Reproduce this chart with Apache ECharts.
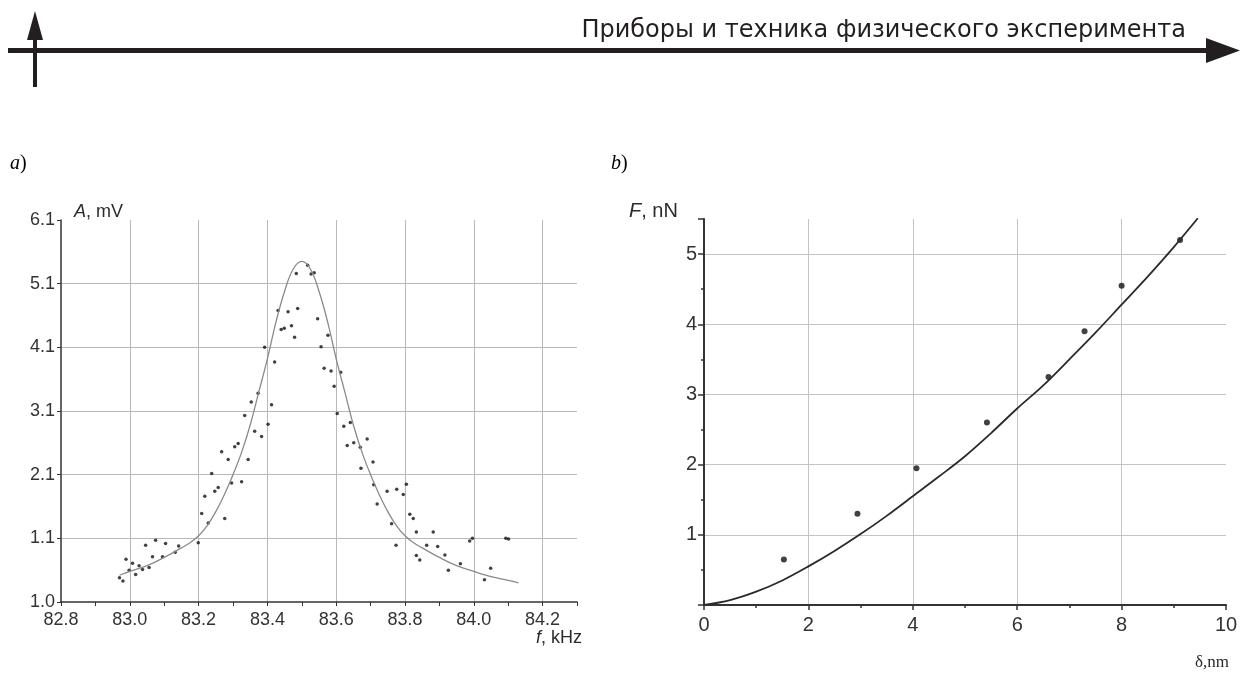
<!DOCTYPE html>
<html>
<head>
<meta charset="utf-8">
<title>Приборы и техника физического эксперимента</title>
<script src="https://cdn.jsdelivr.net/npm/echarts@6.0.0/dist/echarts.min.js"></script>
<style>
  html, body { margin: 0; padding: 0; background: #fff; }
  #chart { width: 1244px; height: 673px; }
</style>
</head>
<body>
<div id="chart"></div>
<script>
// ── a) резонансная кривая кантилевера ─────────────────────────────────────────
// точки измерений (f, кГц / A, мВ), считаны с рисунка
const resFreq = [
  83.484, 83.517, 83.527, 83.536, 83.431, 83.460, 83.488, 83.440, 83.449, 83.470,
  83.479, 83.546, 83.392, 83.421, 83.373, 83.353, 83.412, 83.334, 83.576, 83.556,
  83.565, 83.585, 83.613, 83.594, 83.603, 83.363, 83.383, 83.402, 83.315, 83.305,
  83.267, 83.286, 83.344, 83.238, 83.325, 83.296, 83.257, 83.247, 83.218, 83.209,
  83.228, 83.276, 83.199, 83.075, 83.046, 83.104, 83.142, 83.132, 83.066, 83.095,
  82.989, 83.008, 83.027, 82.998, 83.037, 83.056, 83.017, 82.970, 82.980, 83.622,
  83.641, 83.632, 83.651, 83.670, 83.690, 83.672, 83.707, 83.709, 83.719, 83.748,
  83.776, 83.804, 83.795, 83.761, 83.774, 83.814, 83.824, 83.833, 83.882, 83.863,
  83.895, 83.833, 83.843, 83.916, 83.926, 83.961, 83.988, 83.996, 84.093, 84.101,
  84.031, 84.049
];
const resAmp = [
  5.26, 5.39, 5.25, 5.27, 4.68, 4.66, 4.71, 4.38, 4.40, 4.44,
  4.26, 4.55, 4.10, 3.87, 3.38, 3.24, 3.20, 3.03, 4.29, 4.11,
  3.77, 3.73, 3.71, 3.49, 3.06, 2.78, 2.70, 2.89, 2.59, 2.54,
  2.46, 2.34, 2.34, 2.12, 1.99, 1.97, 1.90, 1.84, 1.76, 1.49,
  1.34, 1.41, 1.03, 1.07, 0.99, 1.02, 0.98, 0.88, 0.81, 0.81,
  0.77, 0.71, 0.67, 0.60, 0.61, 0.64, 0.53, 0.48, 0.43, 2.86,
  2.92, 2.56, 2.60, 2.53, 2.66, 2.20, 2.30, 1.94, 1.64, 1.84,
  1.87, 1.95, 1.79, 1.33, 0.99, 1.48, 1.41, 1.20, 1.20, 0.99,
  0.97, 0.83, 0.76, 0.84, 0.60, 0.70, 1.06, 1.10, 1.10, 1.09,
  0.45, 0.63
];
const fitFreq = [
  82.97, 83.00, 83.05, 83.10, 83.15, 83.175, 83.20, 83.225, 83.25, 83.275,
  83.30, 83.325, 83.35, 83.375, 83.40, 83.425, 83.45, 83.475, 83.50, 83.525,
  83.55, 83.575, 83.60, 83.625, 83.65, 83.675, 83.70, 83.725, 83.75, 83.775,
  83.80, 83.825, 83.85, 83.90, 83.95, 84.00, 84.05, 84.10, 84.13
];
const fitAmp = [
  0.52, 0.58, 0.67, 0.80, 0.95, 1.03, 1.14, 1.30, 1.52, 1.79,
  2.10, 2.45, 2.88, 3.40, 3.92, 4.50, 4.98, 5.33, 5.45, 5.33,
  4.98, 4.50, 3.92, 3.40, 2.88, 2.45, 2.10, 1.79, 1.52, 1.30,
  1.14, 1.03, 0.95, 0.80, 0.67, 0.58, 0.50, 0.44, 0.40
];
// подписи оси A — как в оригинале (нижняя «1.0»)
const ampTickLabels = ['1.0', '1.1', '2.1', '3.1', '4.1', '5.1', '6.1'];

// ── b) сила от глубины вдавливания ────────────────────────────────────────────
const indDepth = [1.53, 2.94, 4.07, 5.42, 6.60, 7.29, 8.00, 9.12];
const indForce = [0.65, 1.30, 1.95, 2.60, 3.25, 3.90, 4.55, 5.20];
const curveDepth = [0, 0.5, 1, 1.5, 2, 2.5, 3, 3.5, 4, 4.5, 5, 5.5, 6, 6.5, 7, 7.5, 8, 8.5, 9, 9.46];
const curveForce = [0, 0.07, 0.19, 0.35, 0.55, 0.77, 1.01, 1.27, 1.55, 1.83, 2.12, 2.45, 2.80, 3.13, 3.50, 3.88, 4.28, 4.68, 5.10, 5.51];

const zip = (a, b) => a.map((v, i) => [v, b[i]]);

const SANS  = '"Liberation Sans", Arial, sans-serif';
const SERIF = '"Liberation Serif", "Times New Roman", serif';
const INK   = '#2b2b2b';

const chart = echarts.init(document.getElementById('chart'), null, { renderer: 'canvas' });

// общий шаблон «только засечки» — вторая ось на той же стороне
const tickOnly = (extra) => Object.assign({
  type: 'value',
  axisLine: { show: false },
  axisLabel: { show: false },
  splitLine: { show: false }
}, extra);

chart.setOption({
  backgroundColor: '#fff',
  animation: false,
  textStyle: { fontFamily: SANS },
  grid: [
    { left: 61,  top: 220, width: 516, height: 382 },   // a)
    { left: 704, top: 219, width: 522, height: 386 }    // b)
  ],
  xAxis: [
    {
      type: 'value', gridIndex: 0, position: 'bottom',
      min: 82.8, max: 84.3, interval: 0.2,
      axisLine: { show: true, onZero: false, lineStyle: { color: '#333', width: 1.5 } },
      axisTick: { show: false },
      axisLabel: { color: '#333', fontSize: 18, margin: 9, showMaxLabel: false,
        formatter: v => v.toFixed(1) },
      splitLine: { show: true, showMinLine: false, showMaxLine: false,
        lineStyle: { color: '#b8b8b8', width: 1 } }
    },
    tickOnly({
      gridIndex: 0, position: 'bottom',
      min: 82.8, max: 84.3, interval: 0.1,
      axisTick: { show: true, length: 4, lineStyle: { color: '#333', width: 1 } }
    }),
    {
      type: 'value', gridIndex: 1, position: 'bottom',
      min: 0, max: 10, interval: 2,
      axisLine: { show: true, onZero: false, lineStyle: { color: '#333', width: 2 } },
      axisTick: { show: true, length: 5, lineStyle: { color: '#333', width: 1.5 } },
      minorTick: { show: true, splitNumber: 2, length: 3, lineStyle: { color: '#333', width: 1.5 } },
      axisLabel: { color: '#333', fontSize: 20, margin: 10 },
      splitLine: { show: true, showMinLine: false, showMaxLine: false,
        lineStyle: { color: '#c4c4c4', width: 1 } }
    }
  ],
  yAxis: [
    {
      type: 'value', gridIndex: 0, position: 'left',
      min: 0.1, max: 6.1, interval: 1,
      axisLine: { show: true, onZero: false, lineStyle: { color: '#333', width: 1.5 } },
      axisTick: { show: true, length: 4, lineStyle: { color: '#333', width: 1 } },
      axisLabel: { color: '#333', fontSize: 18, margin: 6,
        formatter: v => ampTickLabels[Math.round(v - 0.1)] ?? '' },
      splitLine: { show: true, showMinLine: false, showMaxLine: false,
        lineStyle: { color: '#b8b8b8', width: 1 } }
    },
    {
      type: 'value', gridIndex: 1, position: 'left',
      min: 0, max: 5.5, interval: 1,
      axisLine: { show: true, onZero: false, lineStyle: { color: '#333', width: 2 } },
      axisTick: { show: true, length: 6, lineStyle: { color: '#333', width: 1.5 } },
      axisLabel: { color: '#333', fontSize: 20, margin: 7,
        formatter: v => (v === 0 || v > 5) ? '' : String(v) },
      splitLine: { show: true, showMinLine: false, showMaxLine: false,
        lineStyle: { color: '#c4c4c4', width: 1 } }
    },
    tickOnly({
      gridIndex: 1, position: 'left',
      min: 0, max: 5.5, interval: 0.5,
      axisTick: { show: true, length: 3, lineStyle: { color: '#333', width: 1.5 } }
    })
  ],
  series: [
    {
      name: 'fit-a', type: 'line', xAxisIndex: 0, yAxisIndex: 0,
      data: zip(fitFreq, fitAmp),
      smooth: 0.4, showSymbol: false, silent: true,
      lineStyle: { color: '#8a8a8a', width: 1.3 }
    },
    {
      name: 'points-a', type: 'scatter', xAxisIndex: 0, yAxisIndex: 0,
      data: zip(resFreq, resAmp),
      symbol: 'circle', symbolSize: 3.5,
      itemStyle: { color: '#111' }
    },
    {
      name: 'fit-b', type: 'line', xAxisIndex: 2, yAxisIndex: 1,
      data: zip(curveDepth, curveForce),
      smooth: 0.35, showSymbol: false, silent: true,
      lineStyle: { color: '#2a2a2a', width: 1.8 }
    },
    {
      name: 'points-b', type: 'scatter', xAxisIndex: 2, yAxisIndex: 1,
      data: zip(indDepth, indForce),
      symbol: 'circle', symbolSize: 6,
      itemStyle: { color: '#111' }
    }
  ],
  graphic: [
    // шапка журнала: стрелки и рубрика
    { type: 'rect', shape: { x: 8, y: 48, width: 1204, height: 5 }, style: { fill: '#231f20' } },
    { type: 'polygon', shape: { points: [[1206, 38], [1240, 50.5], [1206, 63]] }, style: { fill: '#231f20' } },
    { type: 'rect', shape: { x: 33, y: 30, width: 4, height: 57 }, style: { fill: '#231f20' } },
    { type: 'polygon', shape: { points: [[27, 40], [35, 11], [43, 40]] }, style: { fill: '#231f20' } },
    { type: 'text', x: 1186, y: 31,
      style: { text: 'Приборы и техника физического эксперимента', fill: '#231f20',
        font: '24px "DejaVu Sans", "Open Sans", sans-serif',
        textAlign: 'right', textVerticalAlign: 'middle' } },

    // метки панелей
    { type: 'text', x: 10, y: 164,
      style: { text: '{i|a}{n|)}', textVerticalAlign: 'middle', fill: '#000',
        rich: { i: { fontFamily: SERIF, fontStyle: 'italic', fontSize: 20 },
                n: { fontFamily: SERIF, fontSize: 20 } } } },
    { type: 'text', x: 611, y: 164,
      style: { text: '{i|b}{n|)}', textVerticalAlign: 'middle', fill: '#000',
        rich: { i: { fontFamily: SERIF, fontStyle: 'italic', fontSize: 20 },
                n: { fontFamily: SERIF, fontSize: 20 } } } },

    // подписи осей
    { type: 'text', x: 74, y: 212,
      style: { text: '{i|A}, mV', textVerticalAlign: 'middle', fill: INK,
        font: '18px ' + SANS,
        rich: { i: { fontFamily: SANS, fontStyle: 'italic', fontSize: 18 } } } },
    { type: 'text', x: 536, y: 638,
      style: { text: '{i|f}, kHz', textVerticalAlign: 'middle', fill: INK,
        font: '18px ' + SANS,
        rich: { i: { fontFamily: SANS, fontStyle: 'italic', fontSize: 18 } } } },
    { type: 'text', x: 629, y: 211,
      style: { text: '{i|F}, nN', textVerticalAlign: 'middle', fill: INK,
        font: '20px ' + SANS,
        rich: { i: { fontFamily: SANS, fontStyle: 'italic', fontSize: 20 } } } },
    { type: 'text', x: 1195, y: 663,
      style: { text: 'δ,nm', textVerticalAlign: 'middle', fill: INK,
        font: '17px ' + SERIF } }
  ]
});
</script>
</body>
</html>
